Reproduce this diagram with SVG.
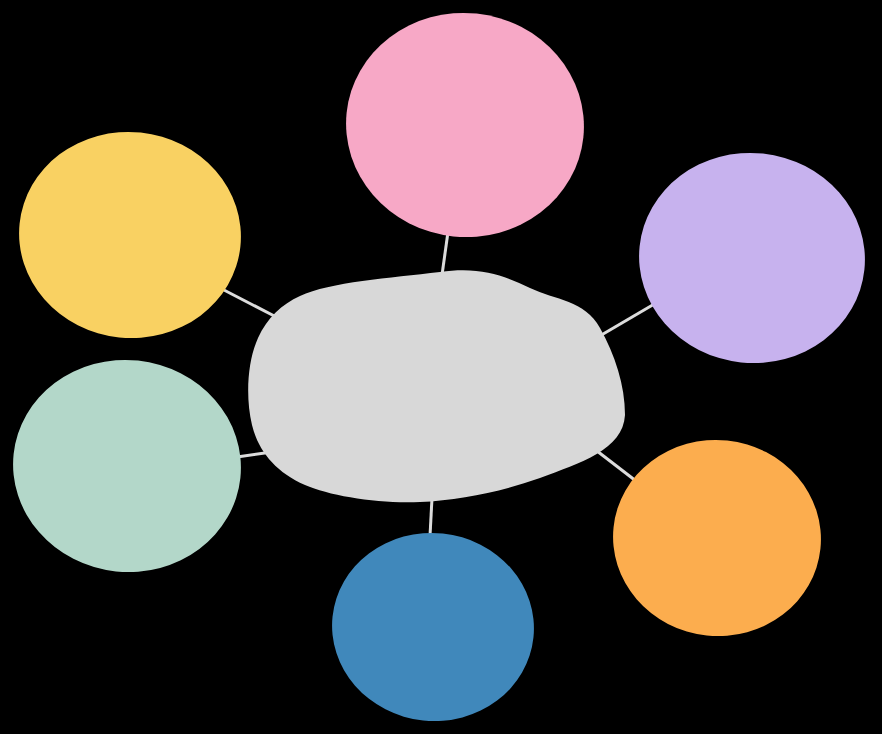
<svg xmlns="http://www.w3.org/2000/svg" width="882" height="734" viewBox="0 0 882 734">
<style>
.conn{stroke:#dcdcdc;stroke-width:3;fill:none}
</style>
<rect width="882" height="734" fill="#000"/>
<g id="connectors">
<line class="conn" x1="222" y1="289" x2="282" y2="320"/>
<line class="conn" x1="448" y1="232" x2="442" y2="275"/>
<line class="conn" x1="656" y1="303" x2="598" y2="337"/>
<line class="conn" x1="237" y1="457" x2="272" y2="452"/>
<line class="conn" x1="636" y1="481" x2="597" y2="451"/>
<line class="conn" x1="432" y1="498" x2="430" y2="536"/>
</g>
<g id="center">
<path fill="#d8d8d8" d="M300,296 C330,282 390,278 440,272 C480,266 505,276 530,288 C555,300 585,300 600,328 C615,355 625,385 625,415 C623,450 580,463 540,478 C500,492 460,500 420,502 C380,504 330,496 305,485 C275,472 258,450 252,425 C245,395 248,360 258,338 C267,318 282,304 300,296 Z"/>
</g>
<g id="pink"><ellipse cx="465" cy="125" rx="119" ry="112" fill="#f7a8c6" transform="rotate(6 465 125)"/></g>
<g id="yellow"><ellipse cx="130" cy="235" rx="111" ry="103" fill="#f9d162" transform="rotate(6 130 235)"/></g>
<g id="purple"><ellipse cx="752" cy="258" rx="113" ry="105" fill="#c7b2ee" transform="rotate(6 752 258)"/></g>
<g id="mint"><ellipse cx="127" cy="466" rx="114" ry="106" fill="#b3d7c9" transform="rotate(6 127 466)"/></g>
<g id="orange"><ellipse cx="717" cy="538" rx="104" ry="98" fill="#fcad4e" transform="rotate(6 717 538)"/></g>
<g id="blue"><ellipse cx="433" cy="627" rx="101" ry="94" fill="#4088bb" transform="rotate(6 433 627)"/></g>
</svg>
